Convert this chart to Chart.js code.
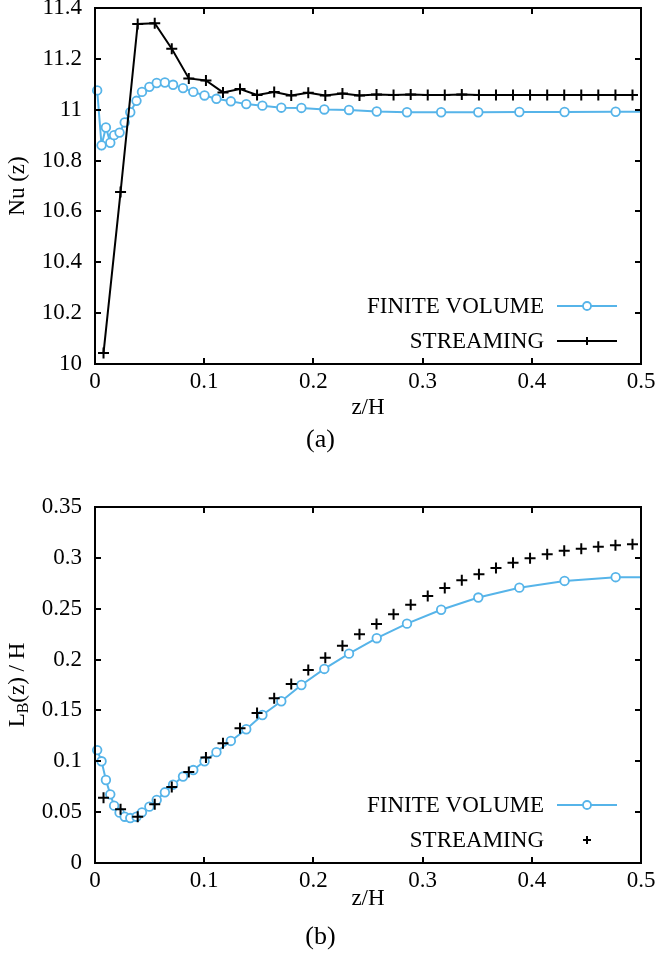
<!DOCTYPE html>
<html>
<head>
<meta charset="utf-8">
<script src="https://cdn.jsdelivr.net/npm/chart.js@4.4.0/dist/chart.umd.min.js"></script>
<style>
  body { margin: 0; background: #fff; }
  canvas { display: block; }
</style>
</head>
<body>
<canvas id="chartA" width="659" height="470"></canvas>
<canvas id="chartB" width="659" height="488"></canvas>
<script>
// z/H positions of the finite volume nodes (last one only carries the line to the border)
const zFV = [0.002, 0.006, 0.010, 0.014, 0.0175, 0.0225, 0.0272, 0.0323, 0.038, 0.043, 0.0498,
  0.0565, 0.064, 0.0715, 0.0806, 0.090, 0.1003, 0.1112, 0.1244, 0.1385, 0.1533, 0.1706, 0.189,
  0.210, 0.2326, 0.258, 0.2857, 0.317, 0.351, 0.3886, 0.430, 0.4768, 0.5];
const nuFV = [11.076, 10.86, 10.93, 10.87, 10.90, 10.91, 10.95, 10.99, 11.035, 11.07, 11.09,
  11.105, 11.107, 11.098, 11.085, 11.07, 11.056, 11.043, 11.033, 11.022, 11.016, 11.008, 11.007,
  11.001, 10.999, 10.993, 10.99, 10.99, 10.99, 10.991, 10.991, 10.992, 10.992];
const lbFV = [0.111, 0.100, 0.0816, 0.0675, 0.0564, 0.0495, 0.0455, 0.0442, 0.0455, 0.0498, 0.0554,
  0.062, 0.0695, 0.077, 0.085, 0.0914, 0.100, 0.109, 0.120, 0.1315, 0.1455, 0.159, 0.175,
  0.1908, 0.2058, 0.221, 0.2353, 0.249, 0.261, 0.2707, 0.2773, 0.281, 0.281];

// streaming cells
const zStream = [0.0078, 0.0234, 0.0391, 0.0547, 0.0703, 0.0859, 0.1016, 0.1172, 0.1328, 0.1484,
  0.1641, 0.1797, 0.1953, 0.2109, 0.2266, 0.2422, 0.2578, 0.2734, 0.2891, 0.3047, 0.3203, 0.3359,
  0.3516, 0.3672, 0.3828, 0.3984, 0.4141, 0.4297, 0.4453, 0.4609, 0.4766, 0.4922];
const nuStream = [10.043, 10.676, 11.337, 11.34, 11.24, 11.123, 11.115, 11.068, 11.081, 11.058,
  11.07, 11.056, 11.067, 11.056, 11.064, 11.056, 11.06, 11.058, 11.06, 11.058, 11.058, 11.06,
  11.058, 11.058, 11.058, 11.058, 11.058, 11.058, 11.058, 11.058, 11.058, 11.058];
const lbStream = [0.0642, 0.0528, 0.0455, 0.0577, 0.0747, 0.0895, 0.1036, 0.1177, 0.1324, 0.1475,
  0.162, 0.176, 0.1898, 0.2019, 0.2137, 0.2249, 0.235, 0.2445, 0.254, 0.2625, 0.2704, 0.278,
  0.2839, 0.290, 0.2953, 0.2996, 0.3035, 0.307, 0.309, 0.311, 0.3124, 0.3134];

const zTicks = [0, 0.1, 0.2, 0.3, 0.4, 0.5];
const zTickLabels = ['0', '0.1', '0.2', '0.3', '0.4', '0.5'];
const nuTicks = [10, 10.2, 10.4, 10.6, 10.8, 11, 11.2, 11.4];
const nuTickLabels = ['10', '10.2', '10.4', '10.6', '10.8', '11', '11.2', '11.4'];
const lbTicks = [0, 0.05, 0.1, 0.15, 0.2, 0.25, 0.3, 0.35];
const lbTickLabels = ['0', '0.05', '0.1', '0.15', '0.2', '0.25', '0.3', '0.35'];

const FONT = "'Liberation Serif', 'Times New Roman', serif";
const FS = 23;
const BLUE = '#56b4e9';

function pts(xs, ys) {
  return xs.map((x, i) => ({x: x, y: ys[i]}));
}

// gnuplot-like frame: full box, inward ticks on all sides, key inside, rotated y label
const framePlugin = {
  id: 'frame',
  afterDatasetsDraw(chart, args, opts) {
    const {ctx, chartArea: a, scales: {x, y}} = chart;
    ctx.save();
    ctx.strokeStyle = '#000';
    ctx.lineWidth = 2;
    ctx.beginPath();
    x.ticks.forEach(t => {
      const px = Math.round(x.getPixelForValue(t.value));
      ctx.moveTo(px, a.bottom); ctx.lineTo(px, a.bottom - 6);
      ctx.moveTo(px, a.top); ctx.lineTo(px, a.top + 6);
    });
    y.ticks.forEach(t => {
      const py = Math.round(y.getPixelForValue(t.value));
      ctx.moveTo(a.left, py); ctx.lineTo(a.left + 6, py);
      ctx.moveTo(a.right, py); ctx.lineTo(a.right - 6, py);
    });
    ctx.stroke();
    ctx.strokeRect(a.left, a.top, a.right - a.left, a.bottom - a.top);

    // key
    ctx.font = FS + 'px ' + FONT;
    ctx.textAlign = 'right';
    ctx.textBaseline = 'middle';
    chart.data.datasets.forEach((ds, i) => {
      const ry = a.bottom - 58 + i * 35;
      const x0 = a.right - 84, x1 = a.right - 24;
      ctx.fillStyle = '#000';
      ctx.fillText(ds.label, x0 - 13, ry + 1);
      if (ds.showLine !== false) {
        ctx.strokeStyle = ds.borderColor;
        ctx.lineWidth = ds.borderWidth;
        ctx.beginPath(); ctx.moveTo(x0, ry); ctx.lineTo(x1, ry); ctx.stroke();
      }
      ctx.strokeStyle = ds.pointBorderColor;
      ctx.fillStyle = ds.pointBackgroundColor;
      ctx.lineWidth = ds.pointBorderWidth;
      Chart.helpers.drawPoint(ctx, {pointStyle: ds.pointStyle, radius: 4, rotation: 0,
        borderWidth: ds.pointBorderWidth}, (x0 + x1) / 2, ry);
    });

    // y label, with optional subscript
    const cy = (a.top + a.bottom) / 2;
    ctx.translate(18, cy);
    ctx.rotate(-Math.PI / 2);
    ctx.fillStyle = '#000';
    ctx.textAlign = 'left';
    ctx.textBaseline = 'middle';
    const parts = opts.label;
    let total = 0;
    parts.forEach(p => {
      ctx.font = (p.sub ? '16px ' : FS + 'px ') + FONT;
      total += ctx.measureText(p.text).width;
    });
    let cx = -total / 2;
    parts.forEach(p => {
      ctx.font = (p.sub ? '16px ' : FS + 'px ') + FONT;
      ctx.fillText(p.text, cx, p.sub ? 6 : 0);
      cx += ctx.measureText(p.text).width;
    });
    ctx.restore();
  }
};

function makeChart(id, cfg) {
  return new Chart(document.getElementById(id), {
    type: 'line',
    data: {
      datasets: [{
        label: 'FINITE VOLUME',
        data: pts(zFV, cfg.fv),
        borderColor: BLUE,
        borderWidth: 2,
        pointStyle: 'circle',
        pointRadius: zFV.map((z, i) => i === zFV.length - 1 ? 0 : 4.3),
        pointBorderColor: BLUE,
        pointBackgroundColor: '#fff',
        pointBorderWidth: 1.8,
        tension: 0,
        clip: false,
        order: 1
      }, {
        label: 'STREAMING',
        data: pts(zStream, cfg.stream),
        showLine: cfg.streamLine,
        borderColor: '#000',
        borderWidth: 2,
        pointStyle: 'cross',
        pointRadius: 5.5,
        pointBorderColor: '#000',
        pointBackgroundColor: '#000',
        pointBorderWidth: 2,
        tension: 0,
        clip: false,
        order: 0
      }]
    },
    options: {
      responsive: false,
      animation: false,
      events: [],
      layout: {padding: {top: cfg.top, right: 18, left: 0, bottom: 0}},
      plugins: {
        legend: {display: false},
        tooltip: {enabled: false},
        title: {
          display: true,
          position: 'bottom',
          text: cfg.tag,
          color: '#000',
          font: {family: FONT, size: 26, weight: 'normal'},
          padding: {top: 0, bottom: cfg.tagPad}
        },
        frame: {label: cfg.ylabel}
      },
      scales: {
        x: {
          type: 'linear',
          min: 0,
          max: 0.5,
          grid: {display: false, drawTicks: false},
          border: {display: false},
          afterBuildTicks: s => { s.ticks = zTicks.map(v => ({value: v})); },
          afterFit: s => { s.height = cfg.xHeight; s.paddingLeft = 0; s.paddingRight = 0; },
          ticks: {
            color: '#000',
            padding: 4,
            maxRotation: 0,
            autoSkip: false,
            font: {family: FONT, size: FS},
            callback: (v, i) => zTickLabels[i]
          },
          title: {
            display: true,
            text: 'z/H',
            color: '#000',
            font: {family: FONT, size: FS},
            padding: {top: 0, bottom: cfg.xTitlePad}
          }
        },
        y: {
          type: 'linear',
          min: cfg.yMin,
          max: cfg.yMax,
          grid: {display: false, drawTicks: false},
          border: {display: false},
          afterBuildTicks: s => { s.ticks = cfg.yTicks.map(v => ({value: v})); },
          afterFit: s => { s.width = 95; s.paddingTop = 0; s.paddingBottom = 0; },
          ticks: {
            color: '#000',
            padding: 13,
            autoSkip: false,
            font: {family: FONT, size: FS},
            callback: (v, i) => cfg.yLabels[i]
          }
        }
      }
    },
    plugins: [framePlugin]
  });
}

makeChart('chartA', {
  fv: nuFV, stream: nuStream, streamLine: true,
  yMin: 10, yMax: 11.4, yTicks: nuTicks, yLabels: nuTickLabels,
  top: 8, xHeight: 60.4, xTitlePad: 2.6, tag: '(a)', tagPad: 14.4,
  ylabel: [{text: 'Nu (z)'}]
});

makeChart('chartB', {
  fv: lbFV, stream: lbStream, streamLine: false,
  yMin: 0, yMax: 0.35, yTicks: lbTicks, yLabels: lbTickLabels,
  top: 37, xHeight: 58.4, xTitlePad: 8.6, tag: '(b)', tagPad: 5.4,
  ylabel: [{text: 'L'}, {text: 'B', sub: true}, {text: '(z) / H'}]
});
</script>
</body>
</html>
